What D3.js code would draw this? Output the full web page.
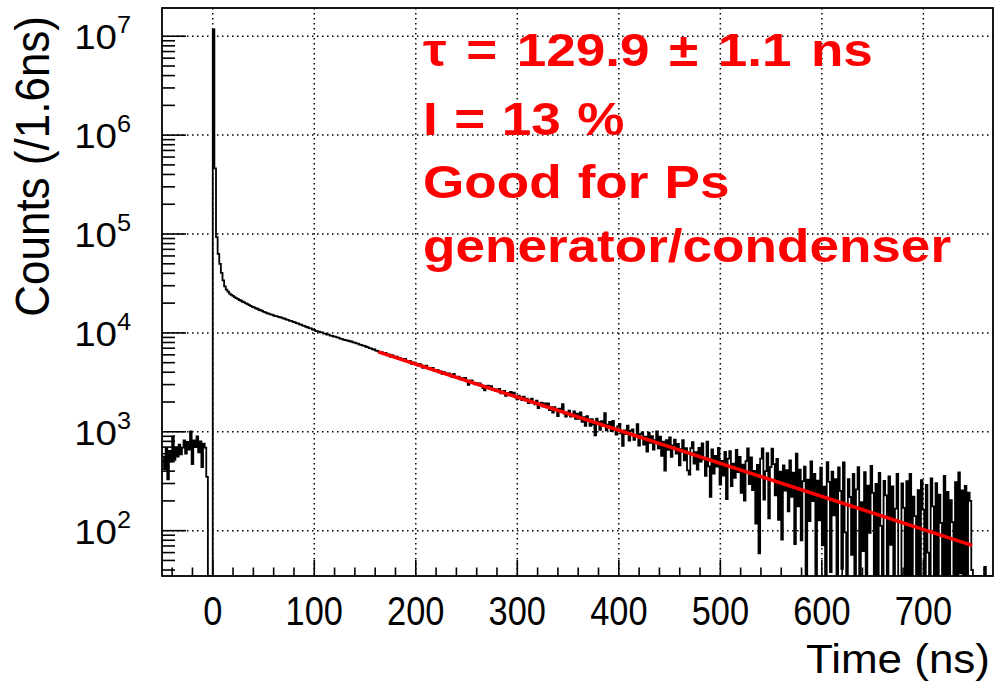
<!DOCTYPE html>
<html><head><meta charset="utf-8">
<script src="https://cdn.jsdelivr.net/npm/d3@7"></script>
<style>body{margin:0;background:#fff}svg{display:block}</style>
</head><body>
<svg id="c" width="999" height="684"></svg>
<script>
// ---------------- data ----------------
const binStart = -49.6;      // ns, left edge of first bin
const binWidth = 1.6;        // ns
const preZeroCounts = [560,420,680,330,640,500,900,520,700,560,740,590,690,820,600,790,660,1010,470,820,700,900,620,800,440,760,690,350,0,0,0];
const peakCounts = [11700000,460000,93000];
const earlyCounts = [63000,50000,40500,34000,29500,27400,26100,25000,24200,23700,23000,22450,22050,21500,21150,20650,20350,19850,19550,19100,
  18800,18350,18150,17750,17550,17150,16950,16700,16350,16150,15800,15650,15400,15300,15050,14800,14800,14500,14400,14300,
  14000,13900,13600,13550,13250,13200,12900,12850,12550,12500,12200,12100,11850,11750,11500,11400,11150,11100,10800,10750,
  10500,10350,10300,10100,10100,9850,9850,9600,9600,9400,9350,9200,9150,9000,8950,8750,8700,8550,8480,8400,
  8330,8230,8180,8020,7980,7820,7790,7620,7580,7430,7390,7240,7180,7020,6990,6830,6790,6620,6590,6440,6400];
const tailCounts = [
  6340,6143,6266,6041,6056,5772,5940,5788,5647,5767,
  5447,5569,5451,5274,5448,5193,5159,5205,4873,5031,
  5000,4799,4660,4851,4713,4425,4628,4652,4427,4312,
  4410,4416,4163,4171,4230,3979,4079,3829,4010,3902,
  3795,3898,3781,3575,3839,3554,3550,3606,3383,3480,
  3418,3506,3245,2984,3294,3314,3115,3026,3128,3030,
  3093,2926,2770,2624,2888,2933,2738,2894,2640,2687,
  2584,2681,2719,2447,2506,2585,2314,2474,2374,2534,
  2386,2487,2229,2130,2313,2225,2088,2261,2085,2159,
  1953,2098,2162,1968,1893,2069,1735,1931,1968,1795,
  1932,1769,1937,1655,1773,1562,1771,1690,1439,1718,
  1679,1899,1529,1420,1561,1632,1423,1454,1606,1348,
  1521,1353,1566,1259,1402,1145,1438,1332,1146,1340,
  1185,919,1354,1258,1043,1279,1194,1540,1035,1181,
  1258,1014,1290,1037,934,1131,1198,965,722,1030,
  948,1156,814,1022,1060,829,887,1196,725,944,
  983,742,892,631,981,771,901,661,821,1011,
  681,892,572,793,404,825,656,877,558,730,
  832,603,755,457,669,821,513,685,408,370,
  683,785,478,621,414,687,500,763,526,359,
  793,446,220,663,377,571,445,689,293,507,
  361,625,209,534,638,283,477,342,657,391,
  556,241,466,201,506,681,296,552,257,402,
  118,463,59,534,680,206,401,607,133,439,
  675,471,227,533,129,395,81,458,254,410,
  157,513,220,386,73,600,176,413,80,317,
  444,31,328,125,502,199,376,3,320,127,
  434,71,279,0,493,311,38,396,143,331,
  28,436,253,41,489,96,0,332,219,57,
  375,33,261,439,0,194,62,390,0,286,
  95,453,241,0,297,25,384,112,0,318,
  227,25,354,72,280,0,167,376,34,0,
  301,170,18,317,35,374,0,221,140,19,
  257,0,325,163,2,291,60,0,337,176,
  14,303,0,231,120,0,358,27,246,0,
  203,122,11,310,0,388,37,256,0,284,
  14,243,200,40,
  0,0,0,0,0,0,0,43,0,0,0,0];
const counts = [].concat(preZeroCounts, peakCounts, earlyCounts, tailCounts);

const xMajorTicks = [0,100,200,300,400,500,600,700];
const yDecades = [2,3,4,5,6,7];
const fitT = [163, 748];          // fit range (ns)
const fitCounts = [6430, 71];     // fitted curve values at range ends
const fitLabels = ["τ = 129.9 ± 1.1 ns", "I = 13 %", "Good for Ps", "generator/condenser"];
const xTitle = "Time (ns)";
const yTitle = "Counts (/1.6ns)";

// ---------------- layout ----------------
const L = 162, R = 993, T = 8, B = 576;
const xDomain = [-50, 768.6];
const yDomain = [34.8, 1.93e7];
const FONT = "'Liberation Sans', Arial, Helvetica, sans-serif";
const SX = 1.1;

const svg = d3.select("#c");
const x = d3.scaleLinear().domain(xDomain).range([L, R]);
const y = d3.scaleLog().domain(yDomain).range([B, T]);

function txt(g, s, px, py, o) {
  o = o || {};
  const t = g.append("text")
    .attr("transform", `translate(${px},${py}) scale(${o.sx || SX},1)` + (o.rot ? ` rotate(${o.rot})` : ""))
    .attr("font-family", FONT)
    .attr("font-size", o.size || 34)
    .attr("font-weight", o.bold ? "bold" : "normal")
    .attr("fill", o.fill || "#000")
    .attr("text-anchor", o.anchor || "start")
    .attr("word-spacing", o.ws || 0)
    .text(s);
  return t;
}

// grid
const grid = svg.append("g").attr("stroke", "#000").attr("stroke-width", 1.5)
  .attr("stroke-dasharray", "1.5,3.5");
xMajorTicks.forEach(v => grid.append("line").attr("x1", x(v)).attr("x2", x(v)).attr("y1", T).attr("y2", B));
yDecades.forEach(e => grid.append("line").attr("x1", L).attr("x2", R).attr("y1", y(10 ** e)).attr("y2", y(10 ** e)));

// histogram
svg.append("clipPath").attr("id", "pc").append("rect")
  .attr("x", L).attr("y", T).attr("width", R - L).attr("height", B - T);
const yMin = yDomain[0];
const yv = c => (c > yMin ? y(c) : y(yMin));
let d = "";
counts.forEach((c, i) => {
  const x0 = x(binStart + i * binWidth), x1 = x(binStart + (i + 1) * binWidth);
  d += (i === 0 ? `M${x0},${yv(c)}` : `V${yv(c)}`) + `H${x1}`;
});
svg.append("path").attr("d", d).attr("fill", "none").attr("stroke", "#000")
  .attr("stroke-width", 1.8).attr("clip-path", "url(#pc)");

// fit
svg.append("path")
  .attr("d", d3.line().x((t) => x(t)).y((t, i) => y(fitCounts[i]))(fitT))
  .attr("fill", "none").attr("stroke", "#ff0000").attr("stroke-width", 3.6);

// frame
svg.append("rect").attr("x", L).attr("y", T).attr("width", R - L).attr("height", B - T)
  .attr("fill", "none").attr("stroke", "#000").attr("stroke-width", 1.8);

// y ticks
const ax = svg.append("g").attr("stroke", "#000").attr("stroke-width", 1.6);
for (let e = 1; e <= 7; e++) {
  for (let m = 1; m <= 9; m++) {
    const v = m * 10 ** e;
    if (v < yDomain[0] || v > yDomain[1]) continue;
    const len = m === 1 ? 24 : 13;
    ax.append("line").attr("x1", L).attr("x2", L + len).attr("y1", y(v)).attr("y2", y(v));
  }
}
// x ticks
for (let v = -40; v <= 760; v += 20) {
  const len = v % 100 === 0 ? 16 : 8.5;
  ax.append("line").attr("x1", x(v)).attr("x2", x(v)).attr("y1", B).attr("y2", B - len);
}

// tick labels
const lab = svg.append("g");
yDecades.forEach(e => {
  const py = y(10 ** e);
  txt(lab, "10", 117, py + 13, { size: 35, anchor: "end" });
  txt(lab, String(e), 117, py - 3, { size: 23 });
});
xMajorTicks.forEach(v => txt(lab, String(v), x(v), 625, { size: 40, anchor: "middle", sx: 0.86 }));

// axis titles
txt(lab, xTitle, 990, 673, { size: 40, anchor: "end" });
txt(lab, yTitle, 49, 16, { size: 44, anchor: "end", rot: -90 });

// fit result text
const tl = svg.append("g");
const baselines = [66, 135, 198, 262];
const spacing = [4.2, 1.5, 1.2, 0];
fitLabels.forEach((s, i) => txt(tl, s, 423, baselines[i], { size: 47, bold: true, fill: "#ff0000", sx: 1.13, ws: spacing[i] }));
</script>
</body></html>
